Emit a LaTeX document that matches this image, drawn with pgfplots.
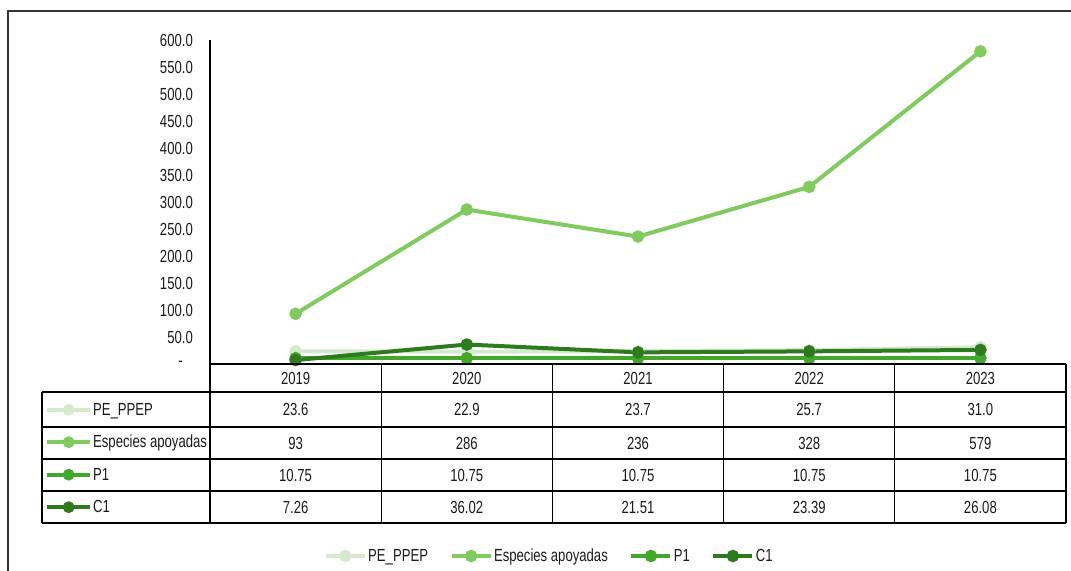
\documentclass[border=0pt]{standalone}
\usepackage{pgfplots}
\pgfplotsset{compat=1.18}
\usepackage{fontspec}
\setmainfont{Liberation Sans}[FakeStretch=0.75]
\definecolor{cpe}{HTML}{D3EBCC}
\definecolor{ces}{HTML}{80CB5E}
\definecolor{cp}{HTML}{43A82A}
\definecolor{cc}{HTML}{2E7A1E}
\definecolor{txt}{HTML}{1A1A1A}
\begin{document}
\begin{tikzpicture}[x=1bp,y=1bp,font=\fontsize{17.5bp}{20bp}\selectfont,text=txt]
\path[use as bounding box] (0,0) rectangle (1071,571);
% frame
\draw[line width=2.5bp,black!80] (8,0) -- (8,560) -- (1071,560);
\begin{axis}[at={(210bp,207bp)}, anchor=south west, scale only axis,
  width=856bp, height=324bp,
  xmin=-0.5, xmax=4.5, ymin=0, ymax=600,
  xtick=\empty, ytick={0,50,...,600},
  yticklabels={{-\rule{10bp}{0pt}},50.0,100.0,150.0,200.0,250.0,300.0,350.0,400.0,450.0,500.0,550.0,600.0},
  major tick length=0pt,
  axis line style={draw=none},
  clip=false,
  /pgf/number format/assume math mode=true,
  yticklabel style={inner xsep=0pt, xshift=-17bp, anchor=east, font=\fontsize{17.5bp}{20bp}\selectfont},
  legend columns=4,
  legend style={at={(0.396,-0.5926)}, anchor=center, draw=none, fill=none, inner sep=0pt,
    font=\fontsize{17.5bp}{20bp}\selectfont,
    nodes={inner xsep=1.5bp, inner ysep=0pt},
    /tikz/every even column/.append style={column sep=20bp}},
  legend image code/.code={\draw[#1,mark repeat=2,mark phase=2] plot coordinates {(0bp,0bp)(19.5bp,0bp)(39bp,0bp)};},
  every axis plot/.append style={line width=4bp, mark=*, mark size=4.2bp}]
\addplot[cpe, mark options={fill=cpe}] coordinates {(0,23.6)(1,22.9)(2,23.7)(3,25.7)(4,31.0)};
\addlegendentry{PE\_PPEP}
\addplot[ces, mark options={fill=ces}] coordinates {(0,93)(1,286)(2,236)(3,328)(4,579)};
\addlegendentry{Especies apoyadas}
\addplot[cp, mark options={fill=cp}] coordinates {(0,10.75)(1,10.75)(2,10.75)(3,10.75)(4,10.75)};
\addlegendentry{P1}
\addplot[cc, mark options={fill=cc}] coordinates {(0,7.26)(1,36.02)(2,21.51)(3,23.39)(4,26.08)};
\addlegendentry{C1}
\end{axis}
% table key legend
\begin{axis}[at={(210bp,207bp)}, anchor=south west, scale only axis,
  width=856bp, height=324bp, hide axis, xmin=0, xmax=1, ymin=0, ymax=1,
  legend cell align=left,
  legend style={at={(-0.1928,-0.0903)}, anchor=north west, draw=none, fill=none, inner sep=0pt,
    font=\fontsize{17.5bp}{20bp}\selectfont,
    nodes={inner xsep=1bp, inner ysep=0pt, text height=22bp, text depth=10.5bp},
    row sep=0pt},
  legend image code/.code={\draw[#1,mark repeat=2,mark phase=2] plot coordinates {(0bp,0bp)(21.5bp,0bp)(43bp,0bp)};}]
\addlegendimage{cpe, line width=4bp, mark=*, mark size=3.8bp, mark options={fill=cpe}}
\addlegendentry{PE\_PPEP}
\addlegendimage{ces, line width=4bp, mark=*, mark size=3.8bp, mark options={fill=ces}}
\addlegendentry{Especies apoyadas}
\addlegendimage{cp, line width=4bp, mark=*, mark size=3.8bp, mark options={fill=cp}}
\addlegendentry{P1}
\addlegendimage{cc, line width=4bp, mark=*, mark size=3.8bp, mark options={fill=cc}}
\addlegendentry{C1}
\end{axis}
% axis lines and table grid
\draw[line width=1.3bp,black] (210,531) -- (210,48);
\foreach \x in {381.2,552.4,723.6,894.8} \draw[line width=1.3bp,black] (\x,207) -- (\x,48);
\draw[line width=1.6bp,black] (1066,207) -- (1066,48);
\draw[line width=1.6bp,black] (42,179) -- (42,48);
\foreach \y in {144,112,80} \draw[line width=1.6bp,black] (42,\y) -- (1066,\y);
\draw[line width=1.6bp,black] (42,179) -- (1066,179);
\draw[line width=1.6bp,black] (42,48) -- (1066,48);
\draw[line width=2.4bp,black] (210,207) -- (1066,207);
% table text
\foreach \x/\t in {295.6/2019,466.8/2020,638/2021,809.2/2022,980.4/2023} \node at (\x,193) {\t};
\foreach \x/\t in {295.6/23.6,466.8/22.9,638/23.7,809.2/25.7,980.4/31.0} \node at (\x,161.5) {\t};
\foreach \x/\t in {295.6/93,466.8/286,638/236,809.2/328,980.4/579} \node at (\x,128) {\t};
\foreach \x/\t in {295.6/10.75,466.8/10.75,638/10.75,809.2/10.75,980.4/10.75} \node at (\x,96) {\t};
\foreach \x/\t in {295.6/7.26,466.8/36.02,638/21.51,809.2/23.39,980.4/26.08} \node at (\x,64) {\t};
\end{tikzpicture}
\end{document}
